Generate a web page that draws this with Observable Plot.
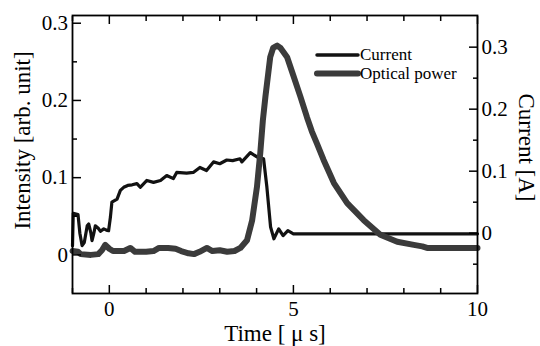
<!DOCTYPE html>
<html><head><meta charset="utf-8">
<script src="https://cdn.jsdelivr.net/npm/d3@7"></script>
<script src="https://cdn.jsdelivr.net/npm/@observablehq/plot@0.6"></script>
<style>body{margin:0;background:#fff}</style>
</head><body><div id="chart"></div>
<script>
// Current trace (right axis, A)
const currentTime = [-1.0,-0.98,-0.85,-0.8,-0.74,-0.68,-0.6,-0.56,-0.5,-0.47,-0.42,-0.38,-0.3,-0.24,-0.15,-0.08,-0.02,0.03,0.07,0.21,0.3,0.39,0.5,0.62,0.75,0.84,1.02,1.2,1.39,1.56,1.74,1.83,2.1,2.28,2.46,2.64,2.83,3.0,3.19,3.35,3.55,3.6,3.83,4.01,4.19,4.28,4.38,4.47,4.6,4.72,4.85,5.0,6.0,7.0,8.0,9.0,10.0];
const currentAmps = [-0.02,0.032,0.03,0.0,-0.02,-0.015,0.012,0.015,0.0,-0.012,0.0,0.012,0.008,0.003,0.007,0.005,0.004,0.026,0.05,0.055,0.069,0.074,0.077,0.078,0.08,0.074,0.085,0.082,0.085,0.093,0.088,0.098,0.097,0.098,0.106,0.101,0.115,0.112,0.118,0.117,0.12,0.115,0.13,0.123,0.12,0.074,0.01,-0.009,0.007,-0.004,0.004,-0.001,-0.001,-0.001,-0.001,-0.001,-0.001];
// Optical power trace (left axis, arb. unit)
const opticalTime = [-1.0,-0.85,-0.78,-0.5,-0.3,-0.2,-0.11,0.0,0.1,0.4,0.57,0.7,1.0,1.2,1.35,1.6,1.8,1.95,2.15,2.3,2.45,2.65,2.8,3.0,3.2,3.4,3.56,3.74,3.88,4.01,4.1,4.17,4.24,4.37,4.45,4.56,4.65,4.83,5.0,5.19,5.37,5.5,5.64,5.82,6.1,6.46,6.91,7.36,7.82,8.27,8.5,8.63,9.3,10.0];
const opticalIntensity = [0.005,0.004,0.001,0.0,0.001,0.006,0.013,0.008,0.005,0.005,0.009,0.004,0.004,0.005,0.009,0.009,0.008,0.005,0.002,0.001,0.004,0.009,0.005,0.006,0.004,0.005,0.009,0.019,0.045,0.088,0.132,0.174,0.205,0.256,0.268,0.271,0.268,0.256,0.232,0.205,0.178,0.16,0.144,0.123,0.093,0.067,0.045,0.026,0.017,0.013,0.011,0.009,0.009,0.009];

const seriesNames = ["Current", "Optical power"];
const seriesColors = ["#121212", "#3b3b3b"];
const seriesWidths = [3.2, 6];

const xMajorTicks = [0, 5, 10];
const xMinorTicks = [-1, 1, 2, 3, 4, 6, 7, 8, 9];
const leftMajorTicks = [0, 0.1, 0.2, 0.3];
const leftMinorTicks = [0.05, 0.15, 0.25];
const rightMajorTicks = [0, 0.1, 0.2, 0.3];
const rightMinorTicks = [-0.05, 0.05, 0.15, 0.25];

const xTitle = "Time [ μ s]";
const leftTitle = "Intensity [arb. unit]";
const rightTitle = "Current [A]";

// right (current) axis mapped onto the left scale
const cZero = 0.0281, cGain = 0.803;
const toLeft = a => cZero + a * cGain;
const fromLeft = v => +((v - cZero) / cGain).toFixed(2);

const currentData = currentTime.map((t, i) => ({t, v: toLeft(currentAmps[i])}));
const opticalData = opticalTime.map((t, i) => ({t, v: opticalIntensity[i]}));

const font = "'Liberation Serif', 'Times New Roman', serif";
const tickStroke = 1.5;

const plot = Plot.plot({
  width: 540, height: 346,
  marginLeft: 72, marginRight: 63, marginTop: 15, marginBottom: 53,
  style: {fontFamily: font, fontSize: "21px", color: "black", background: "white"},
  x: {domain: [-1, 10]},
  y: {domain: [-0.05, 0.31]},
  marks: [
    Plot.line(currentData, {x: "t", y: "v", stroke: seriesColors[0], strokeWidth: seriesWidths[0], strokeLinejoin: "round"}),
    Plot.line(opticalData, {x: "t", y: "v", stroke: seriesColors[1], strokeWidth: seriesWidths[1], strokeLinejoin: "round", strokeLinecap: "round"}),
    // inward ticks
    Plot.axisX(xMajorTicks, {anchor: "bottom", tickSize: -8, tickFormat: () => "", strokeWidth: tickStroke, label: null}),
    Plot.axisX(xMinorTicks, {anchor: "bottom", tickSize: -5, tickFormat: () => "", strokeWidth: tickStroke, label: null}),
    Plot.axisX(xMajorTicks, {anchor: "top", tickSize: -8, tickFormat: () => "", strokeWidth: tickStroke, label: null}),
    Plot.axisX(xMinorTicks, {anchor: "top", tickSize: -5, tickFormat: () => "", strokeWidth: tickStroke, label: null}),
    Plot.axisY(leftMajorTicks, {anchor: "left", tickSize: -9, tickFormat: () => "", strokeWidth: tickStroke, label: null}),
    Plot.axisY(leftMinorTicks, {anchor: "left", tickSize: -5, tickFormat: () => "", strokeWidth: tickStroke, label: null}),
    Plot.axisY(rightMajorTicks.map(toLeft), {anchor: "right", tickSize: -9, tickFormat: () => "", strokeWidth: tickStroke, label: null}),
    Plot.axisY(rightMinorTicks.map(toLeft), {anchor: "right", tickSize: -5, tickFormat: () => "", strokeWidth: tickStroke, label: null}),
    // tick labels
    Plot.axisX(xMajorTicks, {anchor: "bottom", tickSize: 0, tickPadding: 7.5, fontSize: 21, tickFormat: d => String(d), label: null}),
    Plot.axisY(leftMajorTicks, {anchor: "left", tickSize: 0, tickPadding: 4.5, fontSize: 21, tickFormat: d => String(d), label: null}),
    Plot.axisY(rightMajorTicks.map(toLeft), {anchor: "right", tickSize: 0, tickPadding: 4, fontSize: 21, tickFormat: d => String(fromLeft(d)), label: null}),
    Plot.frame({stroke: "black", strokeWidth: 1.8}),
    // axis titles
    Plot.text([xTitle], {frameAnchor: "bottom", dy: 40.5, fontSize: 23, lineAnchor: "middle", textAnchor: "middle"}),
    Plot.text([leftTitle], {frameAnchor: "left", dx: -50, dy: -14, rotate: -90, fontSize: 23, lineAnchor: "middle", textAnchor: "middle"}),
    Plot.text([rightTitle], {frameAnchor: "right", dx: 49, dy: -7, rotate: 90, fontSize: 23, lineAnchor: "middle", textAnchor: "middle"})
  ]
});

document.getElementById("chart").appendChild(plot);

// legend (upper right, inside the frame)
const svg = d3.select(plot);
const legend = svg.append("g").attr("transform", "translate(317,55)").attr("text-anchor", "start");
seriesNames.forEach((name, i) => {
  const g = legend.append("g").attr("transform", `translate(0,${i * 18.5})`);
  g.append("line").attr("x1", 0).attr("x2", 41).attr("y1", 0).attr("y2", 0)
    .attr("stroke", seriesColors[i]).attr("stroke-width", i === 0 ? 3.5 : 6).attr("stroke-linecap", "round");
  g.append("text").attr("x", 43).attr("y", 0).attr("dy", "0.32em").attr("text-anchor", "start")
    .attr("font-family", font).attr("font-size", 17).attr("fill", "black").text(name);
});
</script>
</body></html>
